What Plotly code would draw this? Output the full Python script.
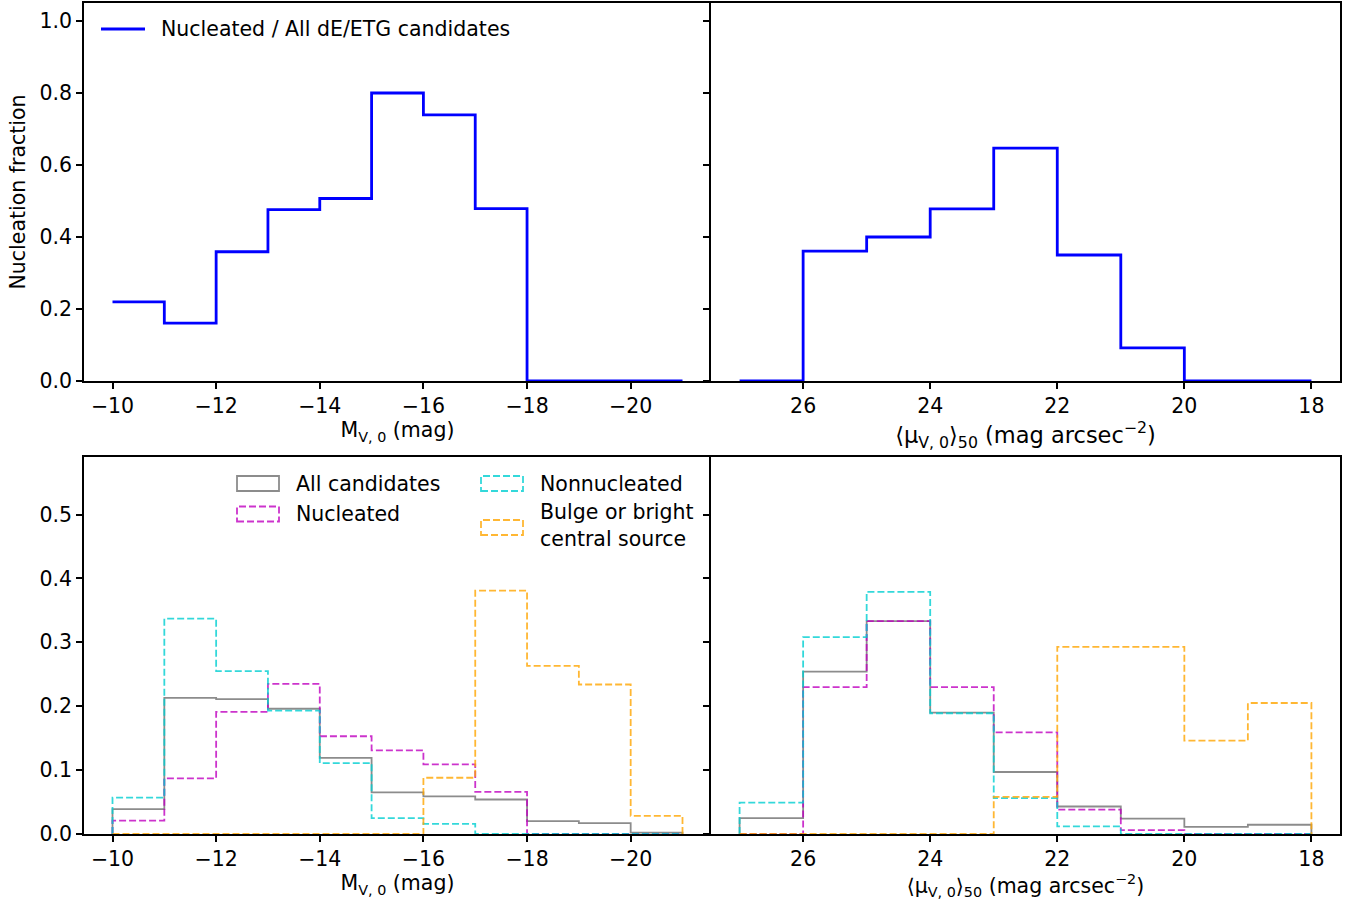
import plotly.graph_objects as go

# ---------------- data ----------------
edges_M = [-10, -11, -12, -13, -14, -15, -16, -17, -18, -19, -20, -21]
edges_mu = [27, 26, 25, 24, 23, 22, 21, 20, 19, 18]

frac_M = [0.220, 0.161, 0.359, 0.476, 0.507, 0.800, 0.739, 0.479, 0.0, 0.0, 0.0]
frac_mu = [0.0, 0.361, 0.400, 0.478, 0.647, 0.350, 0.092, 0.0, 0.0]

all_M = [0.039, 0.213, 0.211, 0.196, 0.119, 0.065, 0.059, 0.054, 0.020, 0.017, 0.002]
nuc_M = [0.021, 0.087, 0.191, 0.235, 0.153, 0.131, 0.109, 0.066, 0.0, 0.0, 0.0]
non_M = [0.057, 0.337, 0.255, 0.193, 0.111, 0.025, 0.016, 0.0, 0.0, 0.0, 0.0]
bul_M = [0.0, 0.0, 0.0, 0.0, 0.0, 0.0, 0.088, 0.381, 0.263, 0.234, 0.0285]

all_mu = [0.025, 0.254, 0.333, 0.190, 0.097, 0.043, 0.024, 0.011, 0.0145]
nuc_mu = [0.0, 0.230, 0.333, 0.230, 0.159, 0.038, 0.006, 0.0, 0.0]
non_mu = [0.049, 0.308, 0.379, 0.189, 0.056, 0.012, 0.0, 0.0, 0.0]
bul_mu = [0.0, 0.0, 0.0, 0.0, 0.058, 0.293, 0.293, 0.146, 0.205]

series_names = ["All candidates", "Nucleated", "Nonnucleated", "Bulge or bright<br>central source"]
frac_name = "Nucleated / All dE/ETG candidates"

# ---------------- styles ----------------
W, H = 1351, 901
FONT = "DejaVu Sans"
FS = 20.5
BLUE = "#0000ff"
COLORS = ["rgba(128,128,128,0.9)", "rgba(191,0,191,0.8)", "rgba(0,206,209,0.8)", "rgba(255,165,0,0.8)"]
DASHES = ["solid", "7px,3px", "7px,3px", "7px,3px"]


def px_x(x):
    return x / W


def px_y(y):
    return 1 - y / H


fig = go.Figure()


def frac_trace(edges, vals, xa, ya):
    return go.Scatter(x=edges, y=list(vals) + [vals[-1]], mode="lines", line_shape="hv",
                      line=dict(color=BLUE, width=2.8), xaxis=xa, yaxis=ya,
                      name=frac_name, showlegend=False, hoverinfo="skip")


def hist_trace(edges, vals, i, xa, ya):
    return go.Scatter(x=[edges[0]] + list(edges), y=[0] + list(vals) + [0], mode="lines",
                      line_shape="hv", line=dict(color=COLORS[i], width=1.8, dash=DASHES[i]),
                      xaxis=xa, yaxis=ya, name=series_names[i], showlegend=False,
                      hoverinfo="skip")


fig.add_trace(frac_trace(edges_M, frac_M, "x", "y"))
fig.add_trace(frac_trace(edges_mu, frac_mu, "x2", "y2"))

for i, v in enumerate([all_M, nuc_M, non_M, bul_M]):
    fig.add_trace(hist_trace(edges_M, v, i, "x3", "y3"))
for i, v in enumerate([all_mu, nuc_mu, non_mu, bul_mu]):
    fig.add_trace(hist_trace(edges_mu, v, i, "x4", "y4"))

dom_xl = [px_x(84), px_x(711)]
dom_xr = [px_x(711), px_x(1340)]
dom_yt = [px_y(381), px_y(3)]
dom_yb = [px_y(834), px_y(457)]

axis_common = dict(showline=True, linecolor="black", linewidth=1.6,
                   ticks="outside", ticklen=6, tickwidth=1.6, tickcolor="black",
                   showgrid=False, zeroline=False, automargin=False,
                   tickfont=dict(family=FONT, size=FS, color="black"))

title_M = "M<sub>V, 0</sub> (mag)"
title_mu = "⟨μ<sub>V, 0</sub>⟩<sub>50</sub> (mag arcsec<sup>−2</sup>)"
tfont = dict(family=FONT, size=FS, color="black")
tfont_big = dict(family=FONT, size=22.5, color="black")

fig.update_layout(
    width=W, height=H, margin=dict(l=0, r=0, t=0, b=0),
    paper_bgcolor="white", plot_bgcolor="white", showlegend=False,
    font=dict(family=FONT, size=FS, color="black"),
    xaxis=dict(domain=dom_xl, anchor="y", range=[-9.45, -21.55], tick0=0, dtick=2, mirror=True,
               title=dict(text=title_M, font=tfont, standoff=4), **axis_common),
    yaxis=dict(domain=dom_yt, anchor="x", range=[0, 1.05], tick0=0, dtick=0.2, tickformat=".1f",
               mirror=False,
               title=dict(text="Nucleation fraction", font=tfont, standoff=8), **axis_common),
    xaxis2=dict(domain=dom_xr, anchor="y2", range=[27.45, 17.55], tick0=0, dtick=2, mirror=True,
                title=dict(text=title_mu, font=tfont_big, standoff=3), **axis_common),
    yaxis2=dict(domain=dom_yt, anchor="x2", range=[0, 1.05], tick0=0, dtick=0.2, mirror=True,
                showticklabels=False, **axis_common),
    xaxis3=dict(domain=dom_xl, anchor="y3", range=[-9.45, -21.55], tick0=0, dtick=2, mirror=True,
                title=dict(text=title_M, font=tfont, standoff=4), **axis_common),
    yaxis3=dict(domain=dom_yb, anchor="x3", range=[0, 0.59], tick0=0, dtick=0.1, tickformat=".1f",
                mirror=False, **axis_common),
    xaxis4=dict(domain=dom_xr, anchor="y4", range=[27.45, 17.55], tick0=0, dtick=2, mirror=True,
                title=dict(text=title_mu, font=tfont, standoff=4), **axis_common),
    yaxis4=dict(domain=dom_yb, anchor="x4", range=[0, 0.59], tick0=0, dtick=0.1, mirror=True,
                showticklabels=False, **axis_common),
)

# ---------------- legends (drawn manually to mimic patch handles) ----------------
shapes = []
annotations = []

# top legend: line handle
shapes.append(dict(type="line", xref="paper", yref="paper", x0=px_x(101), x1=px_x(145),
                   y0=px_y(29), y1=px_y(29), line=dict(color=BLUE, width=2.8)))
annotations.append(dict(text=frac_name, xref="paper", yref="paper", x=px_x(159), y=px_y(29),
                        xanchor="left", yanchor="middle", showarrow=False, font=tfont))

# bottom legend: rectangle handles
leg_items = [
    (0, 237, 476, 293.5, 483.5),
    (1, 237, 506.5, 293.5, 513.5),
    (2, 481, 476, 538, 483.5),
    (3, 481, 520, 538, 525),
]
for i, x0, y0, tx, ty in leg_items:
    shapes.append(dict(type="rect", xref="paper", yref="paper", x0=px_x(x0), x1=px_x(x0 + 42),
                       y0=px_y(y0 + 15), y1=px_y(y0),
                       line=dict(color=COLORS[i], width=1.8, dash=DASHES[i]),
                       fillcolor="rgba(0,0,0,0)"))
    annotations.append(dict(text=series_names[i], xref="paper", yref="paper", x=px_x(tx),
                            y=px_y(ty), xanchor="left", yanchor="middle", align="left",
                            showarrow=False, font=tfont))

fig.update_layout(shapes=shapes, annotations=annotations)

fig.write_html("out.html", config={"displayModeBar": False},
               post_script="document.body.style.margin='0';")
